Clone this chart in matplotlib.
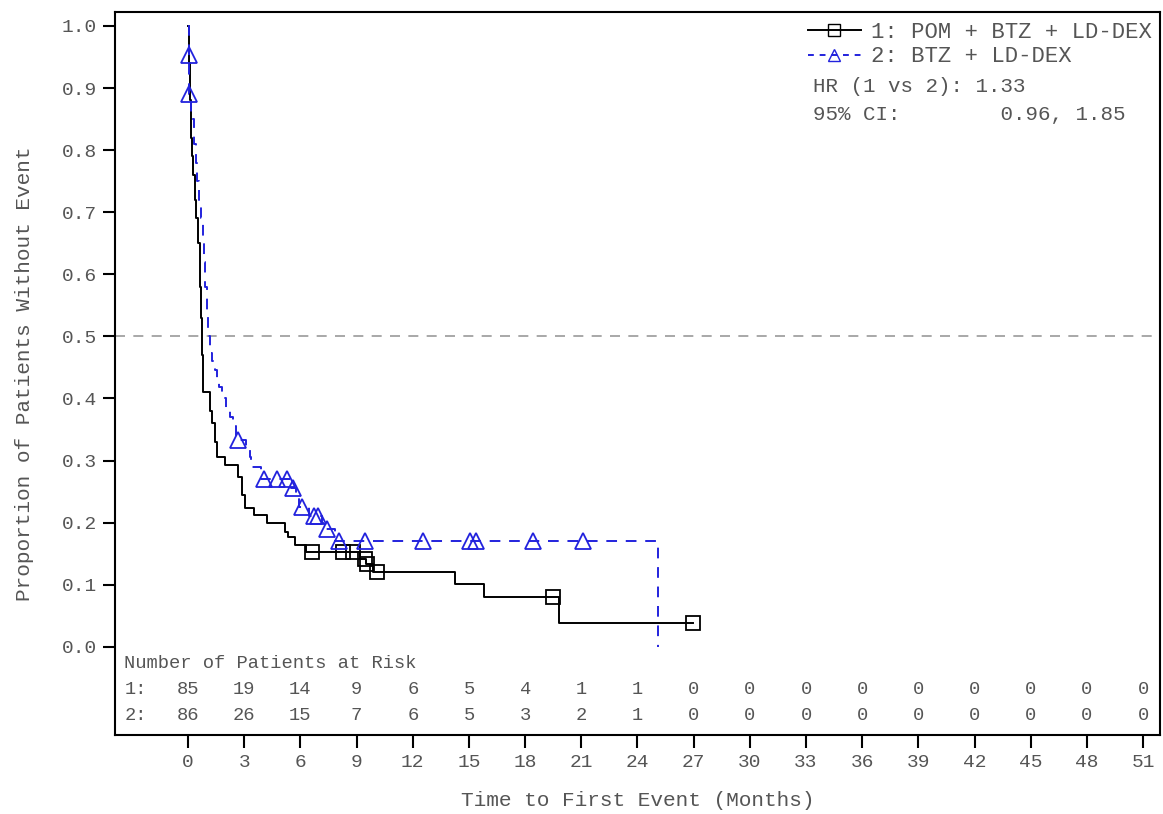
import matplotlib
matplotlib.use("Agg")
import matplotlib.pyplot as plt
import numpy as np

## Kaplan-Meier style step data (time in months, proportion after each step)
t1 = [0, 0.05, 0.1, 0.15, 0.2, 0.25, 0.35, 0.45, 0.55, 0.62, 0.66, 0.7, 0.75, 0.8,
      1.15, 1.3, 1.45, 1.55, 1.98, 2.67, 2.9, 3.05, 3.5, 4.2, 5.2, 5.35, 5.7, 6.3,
      9.2, 9.5, 9.9, 14.25, 15.8, 19.8, 26.96]
s1 = [1.0, 0.94, 0.88, 0.82, 0.79, 0.76, 0.72, 0.69, 0.65, 0.61, 0.58, 0.53, 0.47, 0.41,
      0.38, 0.36, 0.33, 0.306, 0.293, 0.274, 0.245, 0.224, 0.213, 0.20, 0.185, 0.177, 0.164, 0.153,
      0.141, 0.133, 0.121, 0.101, 0.080, 0.039, 0.039]
cens1_t = [6.6, 8.26, 8.83, 9.45, 9.54, 10.1, 19.5, 26.96]
cens1_s = [0.153, 0.153, 0.153, 0.141, 0.133, 0.121, 0.080, 0.039]

t2 = [0, 0.03, 0.06, 0.15, 0.3, 0.4, 0.5, 0.6, 0.7, 0.78, 0.85, 0.92, 1.0, 1.07, 1.17,
      1.3, 1.44, 1.55, 1.66, 1.8, 2.0, 2.24, 2.4, 2.55, 3.1, 3.3, 3.35, 3.9, 5.5, 5.75,
      5.95, 6.45, 7.15, 7.3, 7.85, 25.1]
s2 = [1.0, 0.953, 0.89, 0.85, 0.81, 0.78, 0.75, 0.72, 0.69, 0.66, 0.62, 0.58, 0.54, 0.50, 0.473,
      0.46, 0.446, 0.43, 0.419, 0.40, 0.38, 0.37, 0.355, 0.333, 0.32, 0.306, 0.29, 0.27, 0.256, 0.24,
      0.225, 0.21, 0.20, 0.189, 0.17, 0.0]
cens2_t = [0.05, 0.05, 2.67, 4.06, 4.75, 5.3, 5.6, 6.1, 6.7, 6.95, 7.4, 8.05,
           9.45, 12.55, 15.05, 15.4, 18.4, 21.1]
cens2_s = [0.953, 0.89, 0.333, 0.27, 0.27, 0.27, 0.256, 0.225, 0.21, 0.21, 0.189, 0.17,
           0.17, 0.17, 0.17, 0.17, 0.17, 0.17]

## at-risk table
risk_times = list(range(0, 52, 3))
risk1 = [85, 19, 14, 9, 6, 5, 4, 1, 1, 0, 0, 0, 0, 0, 0, 0, 0, 0]
risk2 = [86, 26, 15, 7, 6, 5, 3, 2, 1, 0, 0, 0, 0, 0, 0, 0, 0, 0]

label1 = "1: POM + BTZ + LD-DEX"
label2 = "2: BTZ + LD-DEX"
hr_text = "HR (1 vs 2): 1.33"
ci_text = "95% CI:        0.96, 1.85"

mono = "Liberation Mono"
grey = "#555555"
blue = "#2222dd"

fig = plt.figure(figsize=(11.63, 8.14), dpi=100)
ax = fig.add_axes([0.0989, 0.0971, 0.8985, 0.8882])

ax.axhline(0.5, color="#999999", lw=1.2, dashes=(6, 5))

ax.step(t1, s1, where="post", color="black", lw=1.4)
ax.step(t2, s2, where="post", color=blue, lw=1.4, dashes=(5.5, 4.5))
ax.plot(cens1_t, cens1_s, ls="none", marker="s", ms=10, mfc="none", mec="black", mew=1.3)
ax.plot(cens2_t, cens2_s, ls="none", marker="^", ms=11, mfc="none", mec=blue, mew=1.3)

ax.set_xlim(-3.9, 51.9)
ax.set_ylim(-0.142, 1.0225)
ax.set_xticks(risk_times)
ax.set_yticks(np.arange(0, 1.01, 0.1))
ax.set_yticklabels([f"{v:.1f}" for v in np.arange(0, 1.01, 0.1)])
ax.tick_params(axis="both", direction="out", length=9, width=1.5, colors="black",
               labelcolor=grey, labelsize=14)
ax.tick_params(axis="x", pad=5)
ax.tick_params(axis="y", pad=4)
for lab in ax.get_xticklabels() + ax.get_yticklabels():
    lab.set_family(mono)
for sp in ax.spines.values():
    sp.set_linewidth(1.5)

ax.set_xlabel("Time to First Event (Months)", family=mono, fontsize=15.2, color=grey, labelpad=14)
ax.set_ylabel("Proportion of Patients Without Event", family=mono, fontsize=15.2, color=grey, labelpad=20)

## number at risk inside the frame
tab = dict(family=mono, fontsize=13.5, color=grey, va="center")
ax.text(-3.4, -0.027, "Number of Patients at Risk", **tab)
ax.text(-3.4, -0.069, "1:", **tab)
ax.text(-3.4, -0.111, "2:", **tab)
for t, a, b in zip(risk_times, risk1, risk2):
    ax.text(t, -0.069, str(a), ha="center", **tab)
    ax.text(t, -0.111, str(b), ha="center", **tab)

## legend + hazard ratio text
h1, = ax.plot([], [], color="black", lw=1.4, marker="s", ms=8, mfc="none", mec="black")
h2, = ax.plot([], [], color=blue, lw=1.4, dashes=(3, 3), marker="^", ms=9, mfc="none", mec=blue)
leg = ax.legend([h1, h2], [label1, label2], loc="upper right", bbox_to_anchor=(0.9923, 0.986),
                frameon=False, prop={"family": mono, "size": 16}, handlelength=2.4,
                handletextpad=0.45, labelspacing=0.15, borderpad=0, borderaxespad=0)
for txt in leg.get_texts():
    txt.set_color(grey)
ax.text(0.668, 0.8976, hr_text, transform=ax.transAxes, family=mono, fontsize=15, color=grey, va="center")
ax.text(0.668, 0.8575, ci_text, transform=ax.transAxes, family=mono, fontsize=15, color=grey, va="center")

fig.savefig("out.png", dpi=100)
